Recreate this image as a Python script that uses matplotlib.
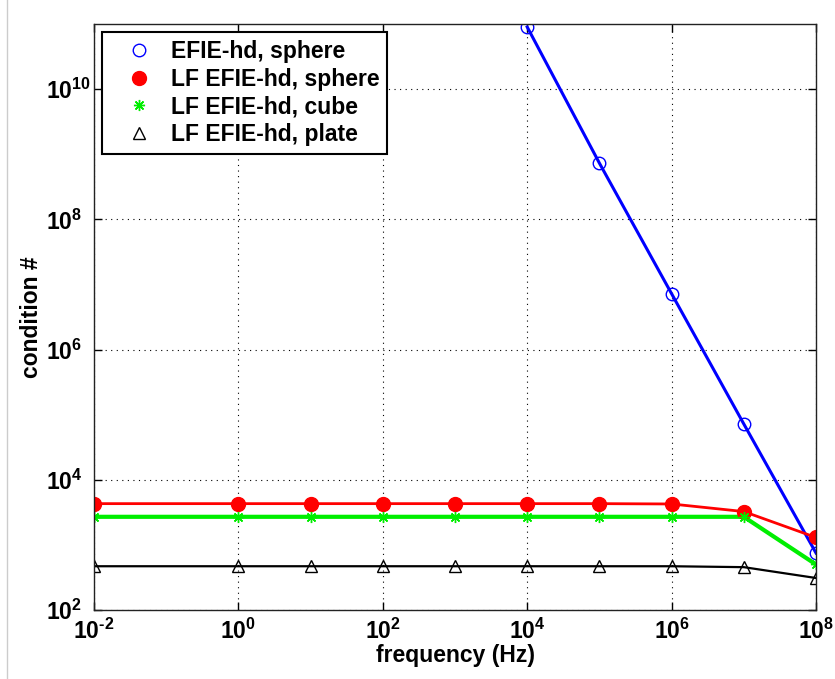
import matplotlib
matplotlib.use("Agg")
import matplotlib.pyplot as plt
from matplotlib.lines import Line2D

# ===========================
# Datos
# ===========================
freq = [1e-2, 1e0, 1e1, 1e2, 1e3, 1e4, 1e5, 1e6, 1e7, 1e8]
efie_freq = [1e4, 1e5, 1e6, 1e7, 1e8]

efie_sphere = [9.0e10, 7.3e8, 7.2e6, 7.2e4, 750]
lf_sphere = [4300, 4300, 4300, 4300, 4300, 4300, 4300, 4250, 3250, 1300]
lf_cube = [2700, 2700, 2700, 2700, 2700, 2700, 2700, 2700, 2700, 500]
lf_plate = [470, 470, 470, 470, 470, 470, 470, 470, 455, 310]

labels = ["EFIE-hd, sphere", "LF EFIE-hd, sphere", "LF EFIE-hd, cube", "LF EFIE-hd, plate"]

x_ticks = [1e-2, 1e0, 1e2, 1e4, 1e6, 1e8]
x_exp = [r"\text{-}2", "0", "2", "4", "6", "8"]
y_ticks = [1e2, 1e4, 1e6, 1e8, 1e10]
y_exp = ["2", "4", "6", "8", "10"]

plt.rcParams["font.family"] = "Liberation Sans"
plt.rcParams["font.weight"] = "bold"
plt.rcParams["mathtext.fontset"] = "custom"
plt.rcParams["mathtext.rm"] = "Liberation Sans:bold"
plt.rcParams["mathtext.bf"] = "Liberation Sans:bold"
plt.rcParams["mathtext.it"] = "Liberation Sans:bold"

fig = plt.figure(figsize=(8.35, 6.79), dpi=100)
ax = fig.add_axes([94 / 835, 1 - 610 / 679, 722 / 835, 586 / 679])

# lineas
ax.plot(efie_freq, efie_sphere, color="blue", lw=2.2)
ax.plot(freq, lf_sphere, color="red", lw=2)
ax.plot(freq, lf_cube, color="#00ee00", lw=3)
ax.plot(freq, lf_plate, color="black", lw=1.6)

# marcadores (los de la leyenda)
ax.plot(efie_freq, efie_sphere, "o", ls="none", mfc="none", mec="blue", ms=9, mew=1, label=labels[0])
ax.plot(freq, lf_sphere, "o", ls="none", mfc="red", mec="red", ms=10, label=labels[1])
ax.plot(freq, lf_cube, marker=(8, 2, 0), ls="none", mec="#00ee00", ms=8, mew=1, label=labels[2])
ax.plot(freq, lf_plate, "^", ls="none", mfc="none", mec="black", ms=9, mew=1, label=labels[3])

ax.set_xscale("log")
ax.set_yscale("log")
ax.set_xlim(1e-2, 1e8)
ax.set_ylim(1e2, 1e11)

ax.set_xticks(x_ticks)
ax.set_xticklabels([r"$\mathbf{10^{%s}}$" % e for e in x_exp])
ax.set_yticks(y_ticks)
ax.set_yticklabels([r"$\mathbf{10^{%s}}$" % e for e in y_exp], ha="left")
ax.minorticks_off()

ax.tick_params(which="both", direction="in", top=True, right=True, length=6, width=1,
               labelsize=16.5)
ax.tick_params(axis="y", pad=34.5)
ax.tick_params(axis="x", pad=6)

ax.grid(True, which="major", color="black", linestyle=(0, (1, 4)), lw=0.8)

for s in ax.spines.values():
    s.set_color("#222222")
    s.set_linewidth(1)

ax.set_xlabel("frequency (Hz)", fontsize=16.5, fontweight="bold", labelpad=0)
ax.set_ylabel("condition #", fontsize=16.5, fontweight="bold", labelpad=2)

leg = ax.legend(loc="upper left", bbox_to_anchor=(0.011, 0.986), borderaxespad=0,
                fancybox=False, edgecolor="black", framealpha=1,
                prop={"size": 16.5, "weight": "bold"}, labelspacing=0.2,
                handletextpad=0.15, handlelength=2.5, borderpad=0.35)
leg.get_frame().set_linewidth(1.5)

# borde gris a la izquierda
fig.add_artist(Line2D([7 / 835, 7 / 835], [0, 1], color="#cccccc", lw=1))

plt.savefig("out.png", dpi=100)
plt.close()
